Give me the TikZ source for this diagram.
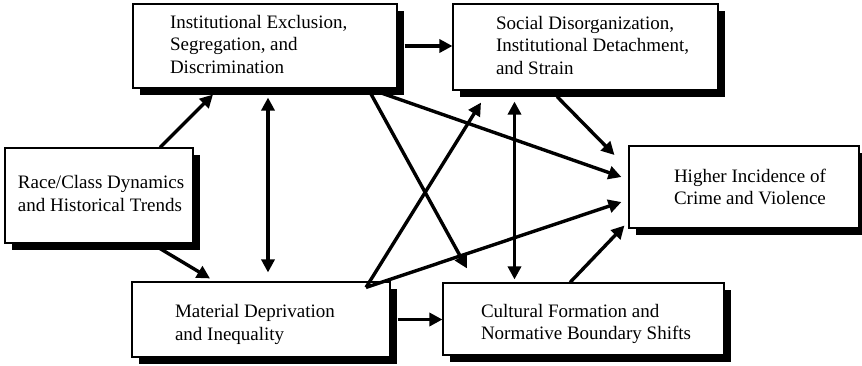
\documentclass[tikz,border=0pt]{standalone}
\usepackage{fontspec}
\setmainfont{Liberation Serif}
\usetikzlibrary{shadows,arrows.meta}
% #1: extra height on top (moves text down by half), #2: box width, #3: left margin, #4: lines
\newcommand\boxlines[4][0pt]{\makebox[#2][l]{\hspace*{#3}\raisebox{0pt}[\dimexpr\height+#1\relax][\depth]{\begin{tabular}{@{}l@{}}#4\end{tabular}}}}
\begin{document}
\begin{tikzpicture}[x=1pt,y=-1pt,
  box/.style={draw, line width=1.1pt, fill=white, inner sep=0pt,
    font=\fontsize{19}{22.5}\selectfont,
    drop shadow={shadow xshift=7pt, shadow yshift=-7pt, fill=black, opacity=1}},
  arr/.style={line width=3.4pt, -{Triangle[length=13pt,width=13pt]}},
  darr/.style={line width=3.4pt, {Triangle[length=13pt,width=13pt]}-{Triangle[length=13pt,width=13pt]}}]
\useasboundingbox (0,0) rectangle (862,365);
\node[box, minimum height=84pt] (A) at (265,46)
  {\boxlines{264pt}{37pt}{Institutional Exclusion,\\Segregation, and\\Discrimination}};
\node[box, minimum height=86pt] (B) at (585.5,47)
  {\boxlines{265pt}{43pt}{Social Disorganization,\\Institutional Detachment,\\and Strain}};
\node[box, minimum height=95pt] (C) at (99,195.5)
  {\boxlines{188pt}{13pt}{Race/Class Dynamics\\and Historical Trends}};
\node[box, minimum height=75pt] (D) at (261,319.5)
  {\boxlines[10pt]{258pt}{43pt}{Material Deprivation\\and Inequality}};
\node[box, minimum height=72pt] (E) at (583.5,319)
  {\boxlines[10pt]{281pt}{38pt}{Cultural Formation and\\Normative Boundary Shifts}};
\node[box, minimum height=82pt] (F) at (744,187)
  {\boxlines[4pt]{230pt}{45pt}{Higher Incidence of\\Crime and Violence}};
% connectors
\draw[arr] ([xshift=7pt]A.east) -- (B.west |- A.east);
\draw[arr] ([xshift=61pt]C.north) -- ([xshift=-52pt,yshift=-6pt]A.south);
\draw[darr] ([xshift=3pt,yshift=-9pt]A.south) -- ([xshift=7pt,yshift=9pt]D.north);
\draw[arr] ([xshift=61pt,yshift=-5pt]C.south) -- ([xshift=-51pt,yshift=3pt]D.north);
\draw[arr] ([xshift=7pt]D.east) -- (E.west |- D.east);
\draw[arr] ([xshift=103pt]A.south) -- ([xshift=-116.5pt,yshift=14pt]E.north);
\draw[arr] ([xshift=115pt,yshift=-4pt]A.south) -- ([xshift=-7pt,yshift=10pt]F.west);
\draw[arr] ([xshift=105pt,yshift=-6pt]D.north) -- ([xshift=-104.5pt,yshift=-12pt]B.south);
\draw[arr] ([xshift=105pt,yshift=-6pt]D.north) -- ([xshift=-7pt,yshift=-15pt]F.west);
\draw[darr] ([xshift=-71pt,yshift=-11pt]B.south) -- ([xshift=-69pt,yshift=3pt]E.north);
\draw[arr] ([xshift=-28.5pt,yshift=-6pt]B.south) -- ([xshift=-14pt,yshift=32pt]F.west);
\draw[arr] ([xshift=-13.5pt]E.north) -- ([xshift=-4pt,yshift=3pt]F.south west);
\end{tikzpicture}
\end{document}
